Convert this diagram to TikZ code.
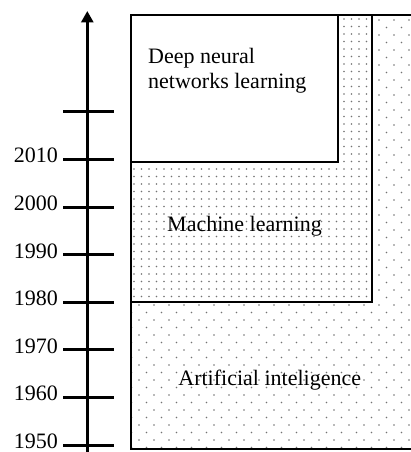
\documentclass[tikz,border=0pt]{standalone}
\usepackage{fontspec}
\setmainfont{Liberation Serif}
\usetikzlibrary{arrows.meta}
\begin{document}
\begin{tikzpicture}[x=1pt,y=-1pt,
  txt/.style={inner sep=0pt,font=\fontsize{22}{25}\selectfont},
  yearlbl/.style={txt,anchor=base east},
  tickline/.style={line width=3pt},
  axisline/.style={line width=3pt,-{Triangle[length=11.5pt,width=12pt]}},
  regionbox/.style={draw=black,line width=2.3pt},
  dotc/.style={fill=black!55}]
\useasboundingbox (0,0) rectangle (410,452);

% sparse staggered dots over the whole AI region
\begin{scope}
  \clip (131,15) rectangle (412,449);
  \foreach \i in {0,...,19}
    \foreach \j in {0,...,29} {
      \fill[dotc] ({124+15*\i},{5+15*\j}) circle (0.9);
      \fill[dotc] ({131.5+15*\i},{12.5+15*\j}) circle (0.9);
    }
\end{scope}

% dense dots for machine learning
\begin{scope}
  \clip (131,15) rectangle (372,302);
  \fill[white] (131,15) rectangle (372,302);
  \foreach \i in {0,...,32}
    \foreach \j in {0,...,38}
      \fill[dotc] ({134+7.5*\i},{19+7.5*\j}) circle (0.9);
\end{scope}

% deep learning region is plain white
\fill[white] (131,15) rectangle (338,162);

% region outlines
\draw[regionbox] (131,15) rectangle (413,449);
\draw[regionbox] (131,15) rectangle (372,302);
\draw[regionbox] (131,15) rectangle (338,162);

% region labels
\node[txt,anchor=base west,align=left] (dnn) at (148,88.3) {Deep neural\\networks learning};
\node[txt,anchor=base] (ml) at (244.5,231) {Machine learning};
\node[txt,anchor=base] (ai) at (269.7,385.7) {Artificial inteligence};

% time axis
\coordinate (axbot) at (87.3,452);
\coordinate (axtop) at (87.3,11);
\draw[axisline] (axbot) -- (axtop);

% ticks and year labels
\foreach \k/\yr in {0/1950,1/1960,2/1970,3/1980,4/1990,5/2000,6/2010,7/} {
  \coordinate (tl\k) at (63,{445-47.6*\k});
  \coordinate (tr\k) at (114,{445-47.6*\k});
  \draw[tickline] (tl\k) -- (tr\k);
  \node[yearlbl] (yr\k) at (58,{448.5-47.6*\k}) {\yr};
}
\end{tikzpicture}
\end{document}
